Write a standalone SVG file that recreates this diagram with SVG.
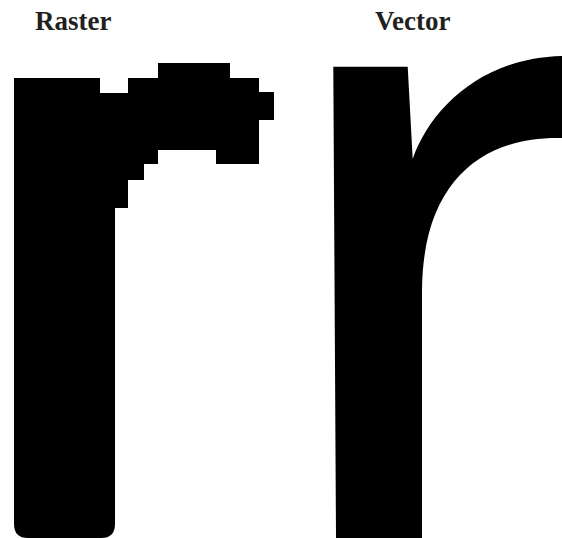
<svg xmlns="http://www.w3.org/2000/svg" width="562" height="538" viewBox="0 0 562 538">
<style>
.lbl{font-family:"Liberation Serif","Times New Roman",serif;font-weight:bold;font-size:27px;fill:#231f20}
.ink{fill:#000}
</style>
<rect width="562" height="538" fill="#fff"/>
<g id="raster">
<text class="lbl" x="35" y="30">Raster</text>
<path class="ink" d="M14,78 H100 V93 H128 V78 H158 V63 H230 V78 H259 V92 H274 V120 H259 V164 H216 V150 H158 V164 H144 V180 H128 V208 H115 V524 Q115,538 101,538 H28 Q14,538 14,524 Z"/>
</g>
<g id="vector">
<text class="lbl" x="375" y="30">Vector</text>
<path class="ink" d="M333.3,66.7 H407.7 L412.7,159 C430,110 480,58 562,56 V138 C486,136 423,178 422,290 V538 H336 Z"/>
</g>
</svg>
